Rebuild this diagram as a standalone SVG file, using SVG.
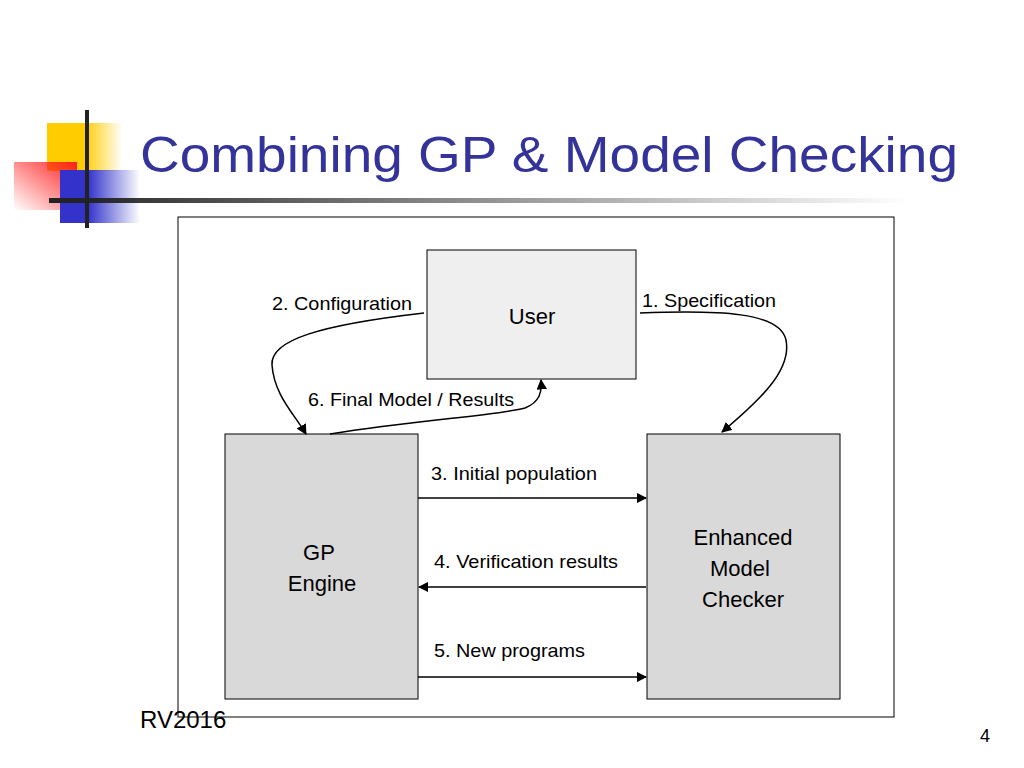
<svg xmlns="http://www.w3.org/2000/svg" width="1024" height="768" viewBox="0 0 1024 768">
<defs>
<style>
.t{font-family:"Liberation Sans",Arial,sans-serif;fill:#000}
.box{stroke:#000;stroke-width:1}
.c{fill:none;stroke:#000;stroke-width:1.5}
</style>
<linearGradient id="gy" x1="0" x2="1"><stop offset="0.5" stop-color="#ffcc00"/><stop offset="1" stop-color="#ffcc00" stop-opacity="0"/></linearGradient>
<linearGradient id="gb" x1="0" x2="1"><stop offset="0.35" stop-color="#3333cc"/><stop offset="1" stop-color="#3333cc" stop-opacity="0"/></linearGradient>
<linearGradient id="gr" x1="1" y1="0" x2="0" y2="1"><stop offset="0" stop-color="#ff2020"/><stop offset="1" stop-color="#ff2020" stop-opacity="0"/></linearGradient>
<linearGradient id="gl" x1="0" x2="1"><stop offset="0" stop-color="#222"/><stop offset="1" stop-color="#222" stop-opacity="0"/></linearGradient>
<marker id="ah" viewBox="0 0 10 10" refX="9" refY="5" markerWidth="7" markerHeight="7" orient="auto-start-reverse"><path d="M0,0 L10,5 L0,10 z" fill="#000"/></marker>
</defs>
<rect width="1024" height="768" fill="#fff"/>
<g id="logo">
<rect x="47" y="123" width="75" height="48" fill="url(#gy)"/>
<rect x="14" y="162" width="63" height="48" fill="url(#gr)"/>
<rect x="60" y="170" width="80" height="53" fill="url(#gb)"/>
<rect x="49" y="198" width="860" height="5" fill="url(#gl)"/>
<rect x="85" y="110" width="4" height="118" fill="#222"/>
</g>
<text class="t" x="140" y="172" font-size="50" textLength="818" lengthAdjust="spacingAndGlyphs" style="fill:#333399">Combining GP &amp; Model Checking</text>
<rect x="178" y="217" width="716" height="500" fill="none" stroke="#000"/>
<g id="user"><rect class="box" x="427" y="250" width="209" height="129" fill="#efefef"/><text class="t" x="532" y="324" font-size="22" text-anchor="middle">User</text></g>
<g id="gp"><rect class="box" x="225" y="434" width="193" height="265" fill="#d9d9d9"/><text class="t" x="319" y="560" font-size="22" text-anchor="middle">GP</text><text class="t" x="322" y="591" font-size="22" text-anchor="middle">Engine</text></g>
<g id="mc"><rect class="box" x="647" y="434" width="193" height="265" fill="#d9d9d9"/><text class="t" x="743" y="545" font-size="22" text-anchor="middle">Enhanced</text><text class="t" x="740" y="576" font-size="22" text-anchor="middle">Model</text><text class="t" x="743" y="607" font-size="22" text-anchor="middle">Checker</text></g>
<g id="connectors">
<path class="c" d="M424,313 C320,325 270,340 272,365 C274,395 295,415 306,434" marker-end="url(#ah)"/>
<path class="c" d="M640,313 C720,310 780,312 786,340 C792,370 760,400 722,432" marker-end="url(#ah)"/>
<path class="c" d="M330,434 C420,420 500,415 525,408 C540,402 542,392 541,380" marker-end="url(#ah)"/>
<path class="c" d="M418,498 L646,498" marker-end="url(#ah)"/>
<path class="c" d="M646,587 L419,587" marker-end="url(#ah)"/>
<path class="c" d="M418,677 L646,677" marker-end="url(#ah)"/>
</g>
<g font-size="19">
<text class="t" x="272" y="310" textLength="140" lengthAdjust="spacingAndGlyphs">2. Configuration</text>
<text class="t" x="642" y="307" textLength="134" lengthAdjust="spacingAndGlyphs">1. Specification</text>
<text class="t" x="308" y="406" textLength="206" lengthAdjust="spacingAndGlyphs">6. Final Model / Results</text>
<text class="t" x="431" y="480" textLength="166" lengthAdjust="spacingAndGlyphs">3. Initial population</text>
<text class="t" x="434" y="568" textLength="184" lengthAdjust="spacingAndGlyphs">4. Verification results</text>
<text class="t" x="434" y="657" textLength="151" lengthAdjust="spacingAndGlyphs">5. New programs</text>
</g>
<text class="t" x="140" y="728" font-size="24">RV2016</text>
<text class="t" x="980" y="742" font-size="18">4</text>
</svg>
